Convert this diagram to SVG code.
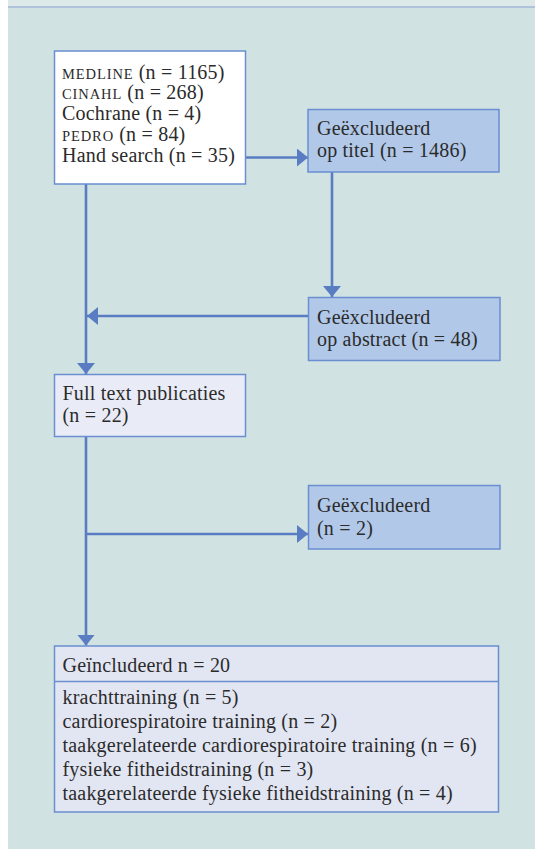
<svg xmlns="http://www.w3.org/2000/svg" width="535" height="849" viewBox="0 0 535 849">
<defs>
<style>
text{font-family:"Liberation Serif","Times New Roman",serif;font-size:20px;fill:#2b2b2b;letter-spacing:0.2px}
.sc{font-size:14.5px;letter-spacing:0.9px}
.box{stroke:#6a8ed0;stroke-width:1.5}
.conn{stroke:#5a7cc3;stroke-width:2.6;fill:none}
</style>
<marker id="ah" viewBox="0 0 11 18" refX="11" refY="9" markerWidth="11" markerHeight="18" markerUnits="userSpaceOnUse" orient="auto">
<path d="M0,0 L11,9 L0,18 z" fill="#5a7cc3"/>
</marker>
</defs>
<rect x="0" y="0" width="535" height="849" fill="#ffffff"/>
<rect x="8" y="0" width="527" height="7" fill="#dde9e9"/>
<rect x="8" y="7" width="527" height="842" fill="#d0e3e2"/>
<line x1="8" y1="7" x2="535" y2="7" stroke="#a3b7d9" stroke-width="1.5"/>

<g id="connectors">
<line class="conn" x1="246" y1="157.5" x2="308" y2="157.5" marker-end="url(#ah)"/>
<line class="conn" x1="332" y1="172" x2="332" y2="297" marker-end="url(#ah)"/>
<line class="conn" x1="308" y1="316" x2="87" y2="316" marker-end="url(#ah)"/>
<line class="conn" x1="86" y1="184" x2="86" y2="374" marker-end="url(#ah)"/>
<line class="conn" x1="86" y1="437" x2="86" y2="645.5" marker-end="url(#ah)"/>
<line class="conn" x1="86" y1="534" x2="308" y2="534" marker-end="url(#ah)"/>
</g>

<g id="sources">
<rect class="box" x="54.5" y="51" width="191" height="133" fill="#ffffff"/>
<text x="62" y="78.5"><tspan class="sc">MEDLINE</tspan> (n = 1165)</text>
<text x="62" y="99"><tspan class="sc">CINAHL</tspan> (n = 268)</text>
<text x="62" y="120">Cochrane (n = 4)</text>
<text x="62" y="140.5"><tspan class="sc">PEDRO</tspan> (n = 84)</text>
<text x="62" y="161.5">Hand search (n = 35)</text>
</g>

<g id="excl-titel">
<rect class="box" x="308" y="109.5" width="191" height="62.5" fill="#b1c8e8"/>
<text x="317" y="134.5">Geëxcludeerd</text>
<text x="317" y="156.5">op titel (n = 1486)</text>
</g>

<g id="excl-abstract">
<rect class="box" x="308.5" y="297.5" width="191.5" height="63" fill="#b1c8e8"/>
<text x="317" y="323.5">Geëxcludeerd</text>
<text x="317" y="345.5">op abstract (n = 48)</text>
</g>

<g id="fulltext">
<rect class="box" x="54.5" y="374.5" width="191" height="62" fill="#e9ecf6"/>
<text x="62.5" y="399.5">Full text publicaties</text>
<text x="62.5" y="421.5">(n = 22)</text>
</g>

<g id="excl-2">
<rect class="box" x="308.5" y="485.5" width="191.5" height="63.5" fill="#b1c8e8"/>
<text x="317" y="511.5">Geëxcludeerd</text>
<text x="317" y="535">(n = 2)</text>
</g>

<g id="included">
<rect class="box" x="54.5" y="646" width="444" height="166" fill="#e2e6f3"/>
<line class="box" x1="54.5" y1="681.5" x2="498.5" y2="681.5"/>
<text x="62.5" y="671.5">Geïncludeerd n = 20</text>
<text x="62.5" y="703.5">krachttraining (n = 5)</text>
<text x="62.5" y="727.5">cardiorespiratoire training (n = 2)</text>
<text x="62.5" y="751.5">taakgerelateerde cardiorespiratoire training (n = 6)</text>
<text x="62.5" y="775.5">fysieke fitheidstraining (n = 3)</text>
<text x="62.5" y="800">taakgerelateerde fysieke fitheidstraining (n = 4)</text>
</g>
</svg>
